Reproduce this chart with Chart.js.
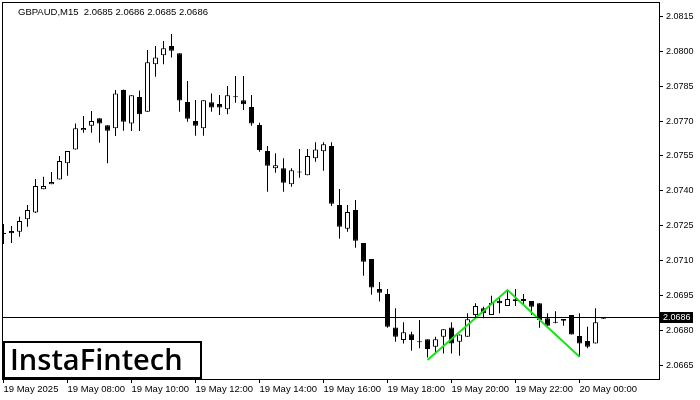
<!DOCTYPE html>
<html>
<head>
<meta charset="utf-8">
<title>GBPAUD M15</title>
<script src="https://cdn.jsdelivr.net/npm/chart.js@4.4.1/dist/chart.umd.min.js"></script>
<style>
    html, body { margin: 0; padding: 0; background: #fff; }
    #wrap { width: 700px; height: 400px; }
</style>
</head>
<body>
<div id="wrap"><canvas id="chart" width="700" height="400"></canvas></div>
<script>
// GBPAUD M15 candles, 19 May 06:00 .. 20 May 00:45 (one per 15 min)
var timeTicks = [0, 8, 16, 24, 32, 40, 48, 56, 64, 72];
var timeLabels = ['19 May 2025', '19 May 08:00', '19 May 10:00', '19 May 12:00', '19 May 14:00',
    '19 May 16:00', '19 May 18:00', '19 May 20:00', '19 May 22:00', '20 May 00:00'];
var priceTicks = [2.0665, 2.0680, 2.0695, 2.0710, 2.0725, 2.0740, 2.0755, 2.0770, 2.0785, 2.0800, 2.0815];

var open = [2.07218, 2.07227, 2.07224, 2.07277, 2.07306, 2.07406, 2.07428, 2.07449, 2.07518, 2.07578,
    2.07660, 2.07680, 2.07712, 2.07682, 2.07669, 2.07834, 2.07690, 2.07804, 2.07740, 2.07944,
    2.07983, 2.08023, 2.07992, 2.07782, 2.07700, 2.07669, 2.07781, 2.07773, 2.07751, 2.07802,
    2.07789, 2.07761, 2.07683, 2.07571, 2.07497, 2.07497, 2.07428, 2.07479, 2.07467, 2.07540,
    2.07570, 2.07593, 2.07339, 2.07237, 2.07317, 2.07175, 2.07106, 2.06977, 2.06956, 2.06812,
    2.06758, 2.06783, 2.06750, 2.06761, 2.06729, 2.06772, 2.06812, 2.06750, 2.06772, 2.06865,
    2.06894, 2.06865, 2.06927, 2.06904, 2.06926, 2.06926, 2.06926, 2.06916, 2.06851, 2.06834,
    2.06841, 2.06865, 2.06775, 2.06753, 2.06743, 2.06849];
var high = [2.07257, 2.07248, 2.07288, 2.07339, 2.07451, 2.07460, 2.07481, 2.07550, 2.07571, 2.07690,
    2.07722, 2.07743, 2.07712, 2.07682, 2.07834, 2.07836, 2.07811, 2.07832, 2.08006, 2.08023,
    2.08045, 2.08075, 2.07992, 2.07872, 2.07791, 2.07789, 2.07819, 2.07812, 2.07851, 2.07894,
    2.07894, 2.07812, 2.07693, 2.07593, 2.07561, 2.07540, 2.07497, 2.07580, 2.07580, 2.07609,
    2.07609, 2.07609, 2.07408, 2.07339, 2.07360, 2.07175, 2.07106, 2.07007, 2.06977, 2.06894,
    2.06834, 2.06793, 2.06844, 2.06761, 2.06772, 2.06804, 2.06834, 2.06782, 2.06873, 2.06916,
    2.06901, 2.06948, 2.06944, 2.06973, 2.06977, 2.06956, 2.06926, 2.06916, 2.06873, 2.06882,
    2.06848, 2.06865, 2.06873, 2.06815, 2.06894, 2.06856];
var low = [2.07171, 2.07175, 2.07202, 2.07245, 2.07304, 2.07406, 2.07428, 2.07449, 2.07465, 2.07578,
    2.07650, 2.07650, 2.07607, 2.07518, 2.07636, 2.07658, 2.07657, 2.07657, 2.07740, 2.07891,
    2.07944, 2.07973, 2.07740, 2.07697, 2.07637, 2.07637, 2.07740, 2.07726, 2.07729, 2.07779,
    2.07748, 2.07680, 2.07568, 2.07396, 2.07478, 2.07396, 2.07417, 2.07456, 2.07467, 2.07525,
    2.07486, 2.07334, 2.07194, 2.07224, 2.07155, 2.07034, 2.06953, 2.06923, 2.06811, 2.06750,
    2.06743, 2.06712, 2.06722, 2.06683, 2.06696, 2.06700, 2.06700, 2.06690, 2.06772, 2.06851,
    2.06851, 2.06865, 2.06873, 2.06904, 2.06904, 2.06913, 2.06865, 2.06811, 2.06819, 2.06830,
    2.06819, 2.06782, 2.06686, 2.06722, 2.06743, 2.06849];
var close = [2.07214, 2.07217, 2.07270, 2.07317, 2.07420, 2.07420, 2.07438, 2.07528, 2.07571, 2.07669,
    2.07670, 2.07700, 2.07690, 2.07658, 2.07819, 2.07697, 2.07811, 2.07729, 2.07953, 2.07974,
    2.08013, 2.08003, 2.07788, 2.07710, 2.07680, 2.07789, 2.07758, 2.07758, 2.07811, 2.07804,
    2.07772, 2.07689, 2.07575, 2.07508, 2.07510, 2.07435, 2.07488, 2.07481, 2.07550, 2.07578,
    2.07600, 2.07344, 2.07245, 2.07309, 2.07185, 2.07095, 2.06984, 2.06961, 2.06815, 2.06772,
    2.06791, 2.06758, 2.06748, 2.06719, 2.06761, 2.06804, 2.06743, 2.06782, 2.06847, 2.06904,
    2.06873, 2.06918, 2.06916, 2.06934, 2.06933, 2.06934, 2.06901, 2.06844, 2.06819, 2.06832,
    2.06848, 2.06782, 2.06743, 2.06729, 2.06834, 2.06856];

// double top pattern drawn on chart
var patternX = [53, 63, 72];
var patternY = [2.06672, 2.06973, 2.06686];

var headerText = 'GBPAUD,M15  2.0685 2.0686 2.0685 2.0686';
var bidLabel = '2.0686';

(function () {
    "use strict";

    var FONT = '"Liberation Sans", Arial, sans-serif';

    var wicks = [], bodies = [], fills = [];
    for (var i = 0; i < open.length; i++) {
        wicks.push({ x: i, y: [low[i], high[i]] });
        bodies.push({ x: i, y: [open[i], close[i]] });
        fills.push(close[i] >= open[i] ? '#ffffff' : '#000000');
    }
    var pattern = patternX.map(function (x, k) { return { x: x, y: patternY[k] }; });

    var terminal = {
        id: 'terminal',
        afterDatasetsDraw: function (chart) {
            var ctx = chart.ctx, a = chart.chartArea;
            var y = Math.round(chart.scales.y.getPixelForValue(close[close.length - 1])) + 0.5;
            ctx.save();
            ctx.strokeStyle = '#000';
            ctx.lineWidth = 1;
            ctx.beginPath();
            ctx.moveTo(a.left, y);
            ctx.lineTo(a.right, y);
            ctx.stroke();
            ctx.restore();
        },
        afterDraw: function (chart) {
            var ctx = chart.ctx, a = chart.chartArea;
            ctx.save();
            // frame
            ctx.strokeStyle = '#000';
            ctx.lineWidth = 1;
            ctx.strokeRect(a.left - 0.5, a.top - 0.5, a.right - a.left + 1, a.bottom - a.top + 1);

            // header
            ctx.fillStyle = '#000';
            ctx.font = '9.5px ' + FONT;
            ctx.textBaseline = 'middle';
            ctx.textAlign = 'left';
            ctx.fillText(headerText, a.left + 15, a.top + 9);

            // bid label on price axis
            var y = Math.round(chart.scales.y.getPixelForValue(close[close.length - 1]));
            ctx.fillStyle = '#000';
            ctx.fillRect(a.right + 1, y - 5, 33, 11);
            ctx.fillStyle = '#fff';
            ctx.font = '9px ' + FONT;
            ctx.fillText(bidLabel, a.right + 4, y + 0.5);

            // logo box
            ctx.fillStyle = '#fff';
            ctx.fillRect(a.left, 341, 198, 37);
            ctx.lineWidth = 2;
            ctx.strokeStyle = '#000';
            ctx.strokeRect(a.left + 1, 342, 197, 36);
            ctx.fillStyle = '#000';
            ctx.font = '600 29px "Open Sans", sans-serif';
            ctx.textBaseline = 'alphabetic';
            ctx.fillText('InstaFintech', a.left + 7, 370);
            ctx.restore();
        }
    };

    new Chart(document.getElementById('chart'), {
        type: 'bar',
        data: {
            datasets: [{
                type: 'line',
                data: pattern,
                borderColor: '#14e614',
                borderWidth: 2,
                pointRadius: 0,
                fill: false,
                order: 0
            }, {
                data: bodies,
                backgroundColor: fills,
                borderColor: '#000',
                borderWidth: 1,
                borderSkipped: false,
                barThickness: 5,
                minBarLength: 1,
                inflateAmount: 0,
                grouped: false,
                order: 1
            }, {
                data: wicks,
                backgroundColor: '#000',
                borderWidth: 0,
                barThickness: 1,
                inflateAmount: 0,
                grouped: false,
                order: 2
            }]
        },
        options: {
            responsive: false,
            animation: false,
            devicePixelRatio: 1,
            layout: { padding: { left: 3, top: 3, right: 0, bottom: 0 } },
            plugins: { legend: { display: false }, tooltip: { enabled: false } },
            scales: {
                x: {
                    type: 'linear',
                    offset: false,
                    min: -0.0625,
                    max: 81.9375,
                    grid: { offset: false, drawOnChartArea: false, color: '#000', tickLength: 4 },
                    border: { display: false },
                    afterBuildTicks: function (scale) {
                        scale.ticks = timeTicks.map(function (v) { return { value: v }; });
                    },
                    afterFit: function (scale) {
                        scale.height = 21;
                        scale.paddingLeft = 0;
                        scale.paddingRight = 0;
                    },
                    ticks: {
                        autoSkip: false,
                        maxRotation: 0,
                        align: 'start',
                        padding: 1,
                        color: '#000',
                        font: { family: FONT, size: 9.5 },
                        callback: function (v) {
                            var k = timeTicks.indexOf(v);
                            return k < 0 ? '' : timeLabels[k];
                        }
                    }
                },
                y: {
                    position: 'right',
                    min: 2.06590,
                    max: 2.08208,
                    grid: { drawOnChartArea: false, color: '#000', tickLength: 4 },
                    border: { display: false },
                    afterBuildTicks: function (scale) {
                        scale.ticks = priceTicks.map(function (v) { return { value: v }; });
                    },
                    afterFit: function (scale) {
                        scale.width = 41;
                        scale.paddingTop = 0;
                        scale.paddingBottom = 0;
                    },
                    ticks: {
                        padding: 3,
                        color: '#000',
                        font: { family: FONT, size: 9 },
                        callback: function (v) { return v.toFixed(4); }
                    }
                }
            }
        },
        plugins: [terminal]
    });
})();
</script>
</body>
</html>
